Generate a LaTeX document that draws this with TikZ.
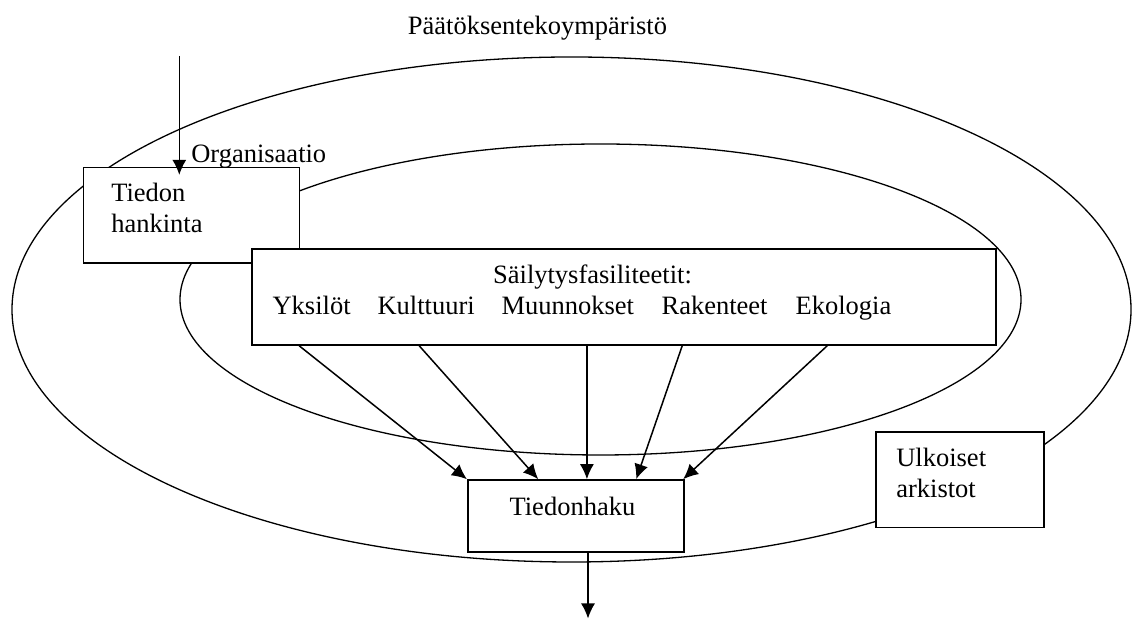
\documentclass[tikz,border=0pt]{standalone}
\usepackage{fontspec}
\setmainfont{Liberation Serif}
\usetikzlibrary{arrows.meta}

\tikzset{
    box/.style={draw, fill=white, line width=0.8pt, inner sep=0pt},
    txt/.style={inner sep=0pt, align=left},
    arr/.style={line width=0.75pt, -{Latex[length=7.5pt, width=7pt]}},
    ring/.style={line width=0.65pt}
}

\begin{document}
\begin{tikzpicture}[x=0.5pt, y=0.5pt, font={\fontsize{13.25}{15.5}\selectfont}]
    \useasboundingbox (0,0) rectangle (1133,619);

    % Environments
    \draw[ring] (571.5,309.5) ellipse [x radius=279.75pt, y radius=126.25pt];
    \draw[ring] (600.5,319.5) ellipse [x radius=210.25pt, y radius=77.75pt];
    \node[txt, anchor=base] (env) at (537.5,584) {Päätöksentekoympäristö};

    % Boxes
    \node[box, minimum width=108pt, minimum height=47.8pt] (hankinta) at (191.3,403.5) {};
    \node[box, minimum width=372.15pt, minimum height=47.85pt] (sail) at (623.85,321.85) {};
    \node[box, minimum width=108.15pt, minimum height=36pt] (haku) at (575.85,103) {};
    \node[box, minimum width=84.15pt, minimum height=47.7pt] (ulk) at (959.85,139) {};

    % Texts in the boxes
    \node[txt, anchor=base west] (org) at ([shift={(108.4,4.4)}]hankinta.north west) {Organisaatio};
    \node[txt, anchor=north west] (hankintaTxt) at ([shift={(28.4,-16.1)}]hankinta.north west) {Tiedon\\hankinta};
    \node[txt, anchor=base] (sailTxt) at ([shift={(-31.35,-34.7)}]sail.north) {Säilytysfasiliteetit:};
    \foreach \w/\x/\n in {Yksilöt/21.3/yks, Kulttuuri/126.3/kult, Muunnokset/250.3/muun,
                          Rakenteet/410.3/rak, Ekologia/544.3/eko} {
        \node[txt, anchor=base west] (\n) at ([shift={(\x,-66.4)}]sail.north west) {\w};
    }
    \node[txt, anchor=base west] (hakuTxt) at ([shift={(42.3,-36.7)}]haku.north west) {Tiedonhaku};
    \node[txt, anchor=north west] (ulkTxt) at ([shift={(21,-16.2)}]ulk.north west) {Ulkoiset\\arkistot};

    % In and out
    \coordinate (in) at (179.3,563);
    \coordinate (out) at (588,0.5);
    \draw[arr, shorten >=-4pt] (in) -- (in |- hankinta.north);
    \draw[arr] (haku.south -| out) -- (out);

    % Facilities to retrieval
    \foreach \a/\b in {48.3/0, 168.3/71.3, 336/120, 431.3/169.3, 576.3/216.3} {
        \draw[arr] ([shift={(\a,0)}]sail.south west) -- ([shift={(\b,0)}]haku.north west);
    }
\end{tikzpicture}
\end{document}
